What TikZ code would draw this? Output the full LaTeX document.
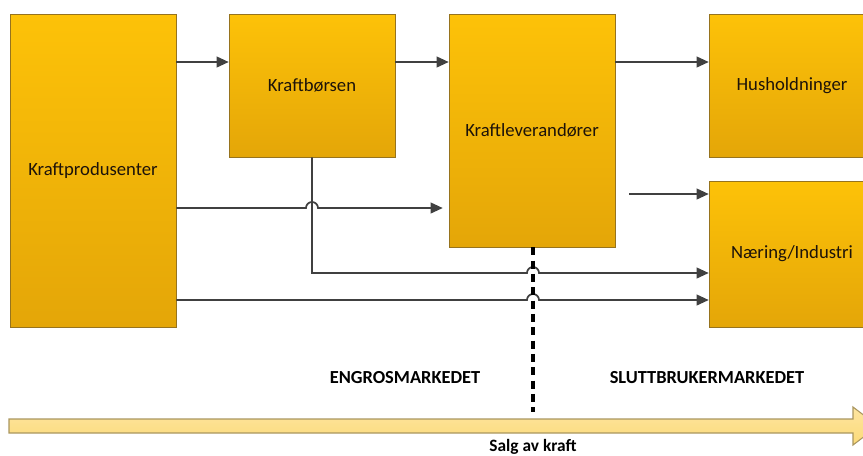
\documentclass[tikz,border=0pt]{standalone}
\usepackage{fontspec}
\setmainfont{Carlito}
\usetikzlibrary{calc}
\usetikzlibrary{positioning}
\usetikzlibrary{arrows.meta}

\definecolor{boxtop}{RGB}{253,194,8}
\definecolor{boxbot}{RGB}{228,166,8}
\definecolor{boxline}{RGB}{150,115,30}
\definecolor{wire}{RGB}{64,64,64}
\definecolor{bandfill}{RGB}{252,218,120}
\definecolor{bandline}{RGB}{170,150,95}

\begin{document}
\begin{tikzpicture}[x=0.75pt, y=-0.75pt]
    \tikzstyle{market}=[draw=boxline, top color=boxtop, bottom color=boxbot,
      minimum width=124.5pt, inner sep=0pt, text=black!85!brown,
      font=\fontsize{14}{16}\selectfont]
    \tikzstyle{flow}=[draw=wire, line width=1.3pt,
      -{Triangle[length=9pt, width=8pt]}]
    \tikzstyle{sidelabel}=[font=\bfseries\fontsize{13.8}{16}\selectfont]

    \useasboundingbox (0, 0) rectangle (863, 455);
    \clip (0, 0) rectangle (863, 455);

    % Actors
    \node[market, minimum height=234.75pt] (prod) at (93, 170.5) {Kraftprodusenter};
    \node[market, minimum height=107.25pt] (bors) at (312, 85.5) {Kraftbørsen};
    \node[market, minimum height=174.75pt] (lev) at (532, 130.5) {Kraftleverandører};
    \node[market, minimum height=107.25pt] (hush) at (792, 85.5) {Husholdninger};
    \node[market, minimum height=109.5pt] (naer) at (792, 254) {Næring/Industri};

    % Rows for the wires
    \coordinate (row1) at (0, 62);
    \coordinate (row2) at (0, 208);
    \coordinate (row3) at (0, 273);
    \coordinate (row4) at (0, 300);
    \coordinate (free) at (629, 194);
    \coordinate (split) at (533, 412);

    % Flows
    \draw[flow] (prod.east |- row1) -- (bors.west |- row1);
    \draw[flow] (bors.east |- row1) -- (lev.west |- row1);
    \draw[flow] (lev.east |- row1) -- (hush.west |- row1);
    \draw[flow, shorten >=4.5pt] (prod.east |- row2)
      -- ($(bors.south |- row2) + (-6, 0)$)
      arc[start angle=180, end angle=360, radius=6]
      -- (lev.west |- row2);
    \draw[flow] (free) -- (naer.west |- free);
    \draw[flow] (bors.south) -- (bors.south |- row3)
      -- ($(split |- row3) + (-6, 0)$)
      arc[start angle=180, end angle=360, radius=6]
      -- (naer.west |- row3);
    \draw[flow] (prod.east |- row4)
      -- ($(split |- row4) + (-6, 0)$)
      arc[start angle=180, end angle=360, radius=6]
      -- (naer.west |- row4);

    % Market split
    \draw[line width=3pt, dash pattern=on 6pt off 4pt] (lev.south -| split) -- (split);
    \node[sidelabel] (engros) at (405, 378) {ENGROSMARKEDET};
    \node[sidelabel] (slutt) at (707, 378) {SLUTTBRUKERMARKEDET};

    % Sales band
    \draw[draw=bandline, line width=0.8pt, top color=bandfill!70!white,
      bottom color=bandfill]
      (9, 419) -- (853, 419) -- (853, 407) -- (878, 426)
      -- (853, 445) -- (853, 433) -- (9, 433) -- cycle;
    \node[font=\bfseries\fontsize{13}{15}\selectfont] (salg) at (533, 447) {Salg av kraft};
\end{tikzpicture}
\end{document}
